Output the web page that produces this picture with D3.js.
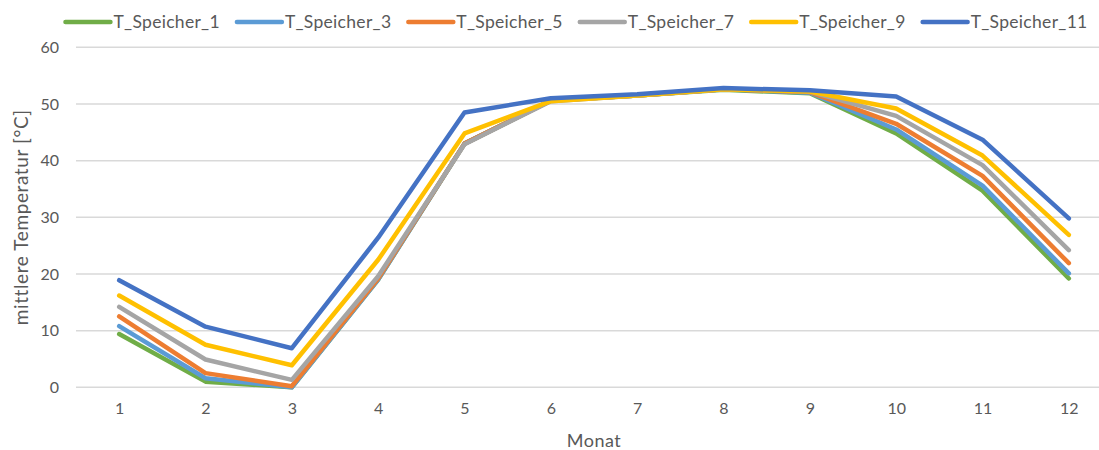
<!DOCTYPE html>
<html>
<head>
<meta charset="utf-8">
<script src="https://cdn.jsdelivr.net/npm/d3@7"></script>
<style>
  body { margin: 0; background: #fff; }
  svg { display: block; font-family: Lato, "Open Sans", sans-serif; }
</style>
</head>
<body>
<svg id="chart" width="1099" height="450"></svg>
<script>
// months on the category axis
var months = [1, 2, 3, 4, 5, 6, 7, 8, 9, 10, 11, 12];
var yTicks = [0, 10, 20, 30, 40, 50, 60];

// mean storage temperature per layer
var speicher1  = [9.4, 1.0, 0.0, 19.0, 43.0, 50.6, 51.5, 52.5, 51.9, 44.8, 34.7, 19.2];
var speicher3  = [10.8, 1.6, 0.0, 19.0, 43.0, 50.6, 51.5, 52.6, 52.0, 45.5, 35.6, 20.1];
var speicher5  = [12.5, 2.5, 0.2, 19.2, 43.0, 50.6, 51.5, 52.6, 52.1, 46.5, 37.3, 21.9];
var speicher7  = [14.2, 4.9, 1.3, 19.6, 42.9, 50.5, 51.5, 52.6, 52.2, 47.9, 39.2, 24.2];
var speicher9  = [16.2, 7.5, 3.9, 22.5, 44.8, 50.5, 51.5, 52.6, 52.2, 49.2, 40.9, 26.9];
var speicher11 = [18.9, 10.7, 6.9, 26.4, 48.5, 51.0, 51.7, 52.8, 52.4, 51.3, 43.7, 29.8];

var seriesNames = ['T_Speicher_1', 'T_Speicher_3', 'T_Speicher_5', 'T_Speicher_7', 'T_Speicher_9', 'T_Speicher_11'];
var seriesValues = [speicher1, speicher3, speicher5, speicher7, speicher9, speicher11];
var colors = ['#70AD47', '#5B9BD5', '#ED7D31', '#A5A5A5', '#FFC000', '#4472C4'];

var svg = d3.select('#chart');
var plotLeft = 76, plotRight = 1112, plotTop = 47.3, plotBottom = 387.3;

var x = d3.scalePoint()
  .domain(months)
  .range([plotLeft, plotRight])
  .padding(0.5);

var y = d3.scaleLinear()
  .domain([0, 60])
  .range([plotBottom, plotTop]);

// gridlines
svg.append('g')
  .selectAll('line')
  .data(yTicks)
  .enter()
  .append('line')
  .attr('x1', plotLeft)
  .attr('x2', plotRight)
  .attr('y1', function (d) { return y(d); })
  .attr('y2', function (d) { return y(d); })
  .attr('stroke', '#d9d9d9')
  .attr('stroke-width', 1.5);

// y axis labels
var yAxis = d3.axisLeft(y).tickValues(yTicks).tickSize(0).tickPadding(0);
svg.append('g')
  .attr('transform', 'translate(59,0)')
  .call(yAxis)
  .call(function (g) { g.select('.domain').remove(); })
  .selectAll('text')
  .attr('fill', '#595959')
  .style('font-size', '16px')
  .style('font-family', 'Lato, sans-serif');

// x axis labels
var xAxis = d3.axisBottom(x).tickSize(0).tickPadding(0);
svg.append('g')
  .attr('transform', 'translate(0,' + (plotBottom + 15) + ')')
  .call(xAxis)
  .call(function (g) { g.select('.domain').remove(); })
  .selectAll('text')
  .attr('fill', '#595959')
  .style('font-size', '16px')
  .style('font-family', 'Lato, sans-serif');

// axis titles
svg.append('text')
  .attr('x', (plotLeft + plotRight) / 2)
  .attr('y', 447)
  .attr('text-anchor', 'middle')
  .attr('fill', '#595959')
  .style('font-size', '18px')
  .style('letter-spacing', '0.5px')
  .text('Monat');

svg.append('text')
  .attr('transform', 'translate(28,' + ((plotTop + plotBottom) / 2) + ') rotate(-90)')
  .attr('text-anchor', 'middle')
  .attr('fill', '#595959')
  .style('font-size', '19px')
  .style('letter-spacing', '0.6px')
  .text('mittlere Temperatur [°C]');

// lines
var line = d3.line()
  .x(function (d, i) { return x(months[i]); })
  .y(function (d) { return y(d); });

svg.append('g')
  .selectAll('path')
  .data(seriesValues)
  .enter()
  .append('path')
  .attr('d', line)
  .attr('fill', 'none')
  .attr('stroke', function (d, i) { return colors[i]; })
  .attr('stroke-width', 4.5)
  .attr('stroke-linejoin', 'round')
  .attr('stroke-linecap', 'round');

// legend, laid out item by item and centred
var legend = svg.append('g');
var items = legend.selectAll('g')
  .data(seriesNames)
  .enter()
  .append('g');

items.append('line')
  .attr('x1', 0)
  .attr('x2', 45)
  .attr('y1', 22)
  .attr('y2', 22)
  .attr('stroke', function (d, i) { return colors[i]; })
  .attr('stroke-width', 4.5)
  .attr('stroke-linecap', 'round');

items.append('text')
  .attr('x', 48)
  .attr('y', 28)
  .attr('fill', '#595959')
  .style('font-size', '17.5px')
  .style('letter-spacing', '0.3px')
  .text(function (d) { return d; });

var pos = 0;
items.each(function () {
  var w = d3.select(this).select('text').node().getComputedTextLength();
  d3.select(this).attr('transform', 'translate(' + pos + ',0)');
  pos += 48 + w + 17;
});
var total = pos - 17;
legend.attr('transform', 'translate(' + (576.5 - total / 2) + ',0)');
</script>
</body>
</html>
